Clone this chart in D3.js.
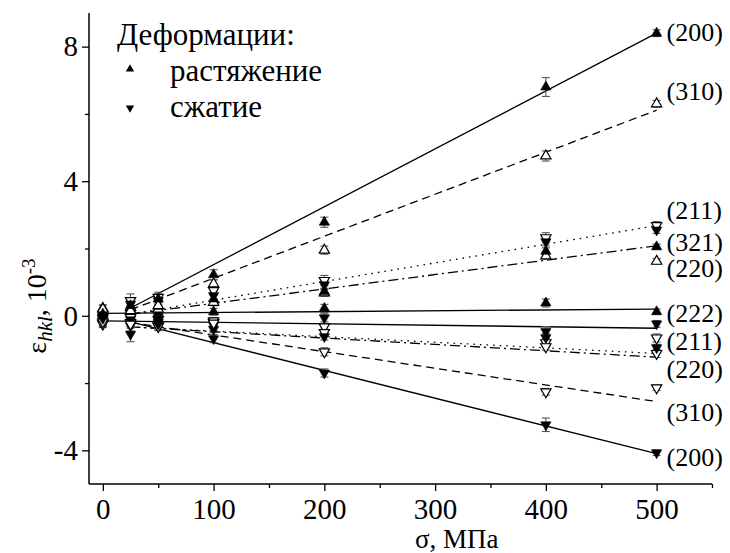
<!DOCTYPE html>
<html>
<head>
<meta charset="utf-8">
<script src="https://cdn.jsdelivr.net/npm/d3@7"></script>
<style>
  body { margin: 0; background: #fff; }
  svg { display: block; }
</style>
</head>
<body>
<svg id="chart" width="730" height="553" font-family="Liberation Serif"></svg>
<script>
// Applied stress, MPa
const stressMPa = [0, 25, 50, 100, 200, 400, 500];

// Lattice strain, 10^-3 — tension group
const t200 = [0.05, 0.3, 0.5, 1.22, 2.78, 6.8, 8.4];
const t200Err = [0.12, 0.2, 0.15, 0.15, 0.15, 0.28, 0.1];
const t310 = [0.2, 0.15, 0.3, 0.95, 1.95, 4.75, 6.3];
const t310Err = [0.12, 0.15, 0.12, 0.12, 0.12, 0.15, 0.1];
const t211Open = [-0.05, 0.45, 0.55, 0.75, 1.05, 2.32, 2.68];
const t211OpenErr = [0.1, 0.2, 0.15, 0.12, 0.15, 0.15, 0.12];
const t211 = [0.0, 0.35, 0.45, 0.6, 0.92, 2.2, 2.55];
const t211Err = [0.1, 0.15, 0.12, 0.12, 0.12, 0.12, 0.1];
const t321 = [0.12, 0.2, 0.28, 0.5, 0.72, 1.92, 2.05];
const t321Err = [0.1, 0.15, 0.12, 0.1, 0.1, 0.1, 0.08];
const t220 = [0.22, 0.25, 0.2, 0.4, 0.68, 1.78, 1.62];
const t220Err = [0.1, 0.12, 0.1, 0.1, 0.1, 0.1, 0.08];
const t222 = [0.02, 0.08, 0.1, 0.12, 0.22, 0.38, 0.12];
const t222Err = [0.1, 0.15, 0.12, 0.1, 0.12, 0.12, 0.08];

// Lattice strain, 10^-3 — compression group
const c211 = [-0.05, -0.12, -0.1, -0.28, -0.06, -0.47, -0.24];
const c211Err = [0.1, 0.15, 0.12, 0.1, 0.12, 0.15, 0.1];
const c222Open = [-0.22, -0.05, -0.12, -0.2, -0.33, -0.8, -0.66];
const c222OpenErr = [0.1, 0.12, 0.1, 0.1, 0.1, 0.12, 0.12];
const c211b = [-0.1, -0.3, -0.2, -0.4, -0.62, -0.65, -0.95];
const c211bErr = [0.1, 0.15, 0.1, 0.1, 0.1, 0.12, 0.1];
const c220 = [-0.25, -0.2, -0.3, -0.15, -0.5, -0.92, -1.12];
const c220Err = [0.1, 0.12, 0.12, 0.1, 0.1, 0.1, 0.12];
const c310 = [-0.18, -0.25, -0.32, -0.22, -1.07, -2.26, -2.14];
const c310Err = [0.1, 0.12, 0.12, 0.1, 0.12, 0.1, 0.08];
const c200 = [-0.08, -0.55, -0.25, -0.68, -1.7, -3.24, -4.07];
const c200Err = [0.1, 0.22, 0.12, 0.12, 0.12, 0.2, 0.08];

// Linear fits: start/end stress and strain
const fitFrom = [25, 25, 25, 25, 0, 0, 25, 25, 25, 25];
const fitTo = [500, 500, 500, 500, 500, 500, 500, 500, 500, 500];
const fitStart = [0.23, 0.18, 0.05, 0.05, 0.07, -0.15, -0.33, -0.33, -0.2, -0.18];
const fitEnd = [8.4, 6.11, 2.68, 2.08, 0.2, -0.37, -1.12, -1.23, -2.55, -4.1];
const fitStyle = ["solid", "dash", "dot", "dashdot", "solid", "solid", "dot", "dashdot", "dash", "solid"];

// Reflection labels and the strain level they sit at
const reflLabels = ["(200)", "(310)", "(211)", "(321)", "(220)", "(222)", "(211)", "(220)", "(310)", "(200)"];
const reflLevels = [8.44, 6.68, 3.15, 2.19, 1.42, 0.08, -0.75, -1.58, -2.86, -4.2];

const xTicks = [0, 100, 200, 300, 400, 500];
const xMinor = [50, 150, 250, 350, 450, 550];
const yTicks = [-4, 0, 4, 8];
const yMinor = [-2, 2, 6];

const legendTitle = "Деформации:";
const legendItems = ["растяжение", "сжатие"];

// ---- layout ----
const FONT = "Liberation Serif";
const svg = d3.select("#chart");
const mLeft = 89, mRight = 712, mTop = 13, mBottom = 484;
const x = d3.scaleLinear().domain([-12.5, 550]).range([mLeft, mRight]);
const y = d3.scaleLinear().domain([-5, 9]).range([mBottom, mTop]);

const dashes = { solid: null, dash: "8,5", dot: "1.6,5", dashdot: "10,4,2,4" };

// fit lines
const fitLine = d3.line().x(d => x(d[0])).y(d => y(d[1]));
const plot = svg.append("g");
fitStart.forEach((s, i) => {
  plot.append("path")
    .attr("d", fitLine([[fitFrom[i], s], [fitTo[i], fitEnd[i]]]))
    .attr("fill", "none")
    .attr("stroke", "#000")
    .attr("stroke-width", 1.3)
    .attr("stroke-dasharray", dashes[fitStyle[i]]);
});

// measured points
const series = [
  { v: t222, e: t222Err, up: true, open: false },
  { v: t220, e: t220Err, up: true, open: true },
  { v: t321, e: t321Err, up: true, open: false },
  { v: t211Open, e: t211OpenErr, up: false, open: true },
  { v: t211, e: t211Err, up: false, open: false },
  { v: t310, e: t310Err, up: true, open: true },
  { v: t200, e: t200Err, up: true, open: false },
  { v: c222Open, e: c222OpenErr, up: false, open: true },
  { v: c220, e: c220Err, up: false, open: true },
  { v: c211b, e: c211bErr, up: false, open: false },
  { v: c211, e: c211Err, up: false, open: false },
  { v: c310, e: c310Err, up: false, open: true },
  { v: c200, e: c200Err, up: false, open: false }
];

const tri = d3.symbol().type(d3.symbolTriangle).size(46)();
const triSmall = d3.symbol().type(d3.symbolTriangle).size(30)();

// error bars
const errG = svg.append("g").attr("stroke", "#555").attr("stroke-width", 1.1);
series.forEach(s => {
  s.v.forEach((val, i) => {
    const cx = x(stressMPa[i]);
    const y1 = y(val + s.e[i]), y2 = y(val - s.e[i]);
    errG.append("line").attr("x1", cx).attr("x2", cx).attr("y1", y1).attr("y2", y2);
    errG.append("line").attr("x1", cx - 4).attr("x2", cx + 4).attr("y1", y1).attr("y2", y1);
    errG.append("line").attr("x1", cx - 4).attr("x2", cx + 4).attr("y1", y2).attr("y2", y2);
  });
});

// markers
const mkG = svg.append("g");
series.forEach(s => {
  s.v.forEach((val, i) => {
    mkG.append("path")
      .attr("d", tri)
      .attr("transform", `translate(${x(stressMPa[i])},${y(val)})${s.up ? "" : " rotate(180)"}`)
      .attr("fill", s.open ? "#fff" : "#000")
      .attr("stroke", "#000")
      .attr("stroke-width", s.open ? 1.2 : 0.6);
  });
});

// axes
const axG = svg.append("g");
axG.append("line").attr("x1", mLeft).attr("x2", mLeft).attr("y1", mTop).attr("y2", mBottom)
  .attr("stroke", "#000").attr("stroke-width", 1.5);
axG.append("line").attr("x1", mLeft).attr("x2", mRight).attr("y1", mBottom).attr("y2", mBottom)
  .attr("stroke", "#000").attr("stroke-width", 1.5);

const xAxis = d3.axisBottom(x).tickValues(xTicks).tickSize(7).tickPadding(7).tickFormat(d => String(d));
const gx = svg.append("g").attr("transform", `translate(0,${mBottom})`).call(xAxis)
  .attr("font-family", FONT).attr("font-size", 29);
gx.select(".domain").remove();
gx.selectAll(".tick line").attr("stroke", "#000").attr("stroke-width", 1.3);
gx.selectAll(".tick text").attr("fill", "#000");

const xAxisMinor = d3.axisBottom(x).tickValues(xMinor).tickSize(4).tickFormat("");
const gxm = svg.append("g").attr("transform", `translate(0,${mBottom})`).call(xAxisMinor);
gxm.select(".domain").remove();
gxm.selectAll(".tick line").attr("stroke", "#000").attr("stroke-width", 1.3);

const yAxis = d3.axisLeft(y).tickValues(yTicks).tickSize(7).tickPadding(4).tickFormat(d => String(d));
const gy = svg.append("g").attr("transform", `translate(${mLeft},0)`).call(yAxis)
  .attr("font-family", FONT).attr("font-size", 29);
gy.select(".domain").remove();
gy.selectAll(".tick line").attr("stroke", "#000").attr("stroke-width", 1.3);
gy.selectAll(".tick text").attr("fill", "#000");

const yAxisMinor = d3.axisLeft(y).tickValues(yMinor).tickSize(4).tickFormat("");
const gym = svg.append("g").attr("transform", `translate(${mLeft},0)`).call(yAxisMinor);
gym.select(".domain").remove();
gym.selectAll(".tick line").attr("stroke", "#000").attr("stroke-width", 1.3);

// axis titles
svg.append("text")
  .attr("x", 415).attr("y", 548)
  .attr("font-family", FONT)
  .attr("font-size", 27)
  .text("σ, МПа");

const yTitle = svg.append("text")
  .attr("transform", "translate(46,306) rotate(-90)")
  .attr("text-anchor", "middle")
  .attr("font-family", FONT)
  .attr("font-size", 28);
yTitle.append("tspan").text("ε");
yTitle.append("tspan").attr("font-style", "italic").attr("font-size", 21).attr("dy", 6).text("hkl");
yTitle.append("tspan").attr("dy", -6).text(", 10");
yTitle.append("tspan").attr("font-size", 19).attr("dy", -11).text("-3");

// reflection labels
svg.append("g").selectAll("text")
  .data(reflLabels)
  .join("text")
  .attr("x", x(500) + 10)
  .attr("y", (d, i) => y(reflLevels[i]))
  .attr("dy", "0.35em")
  .attr("font-family", FONT)
  .attr("font-size", 26)
  .text(d => d);

// legend
const lg = svg.append("g").attr("font-family", FONT);
lg.append("text").attr("x", 117).attr("y", 45).attr("font-size", 31).text(legendTitle);
legendItems.forEach((t, i) => {
  const cy = i === 0 ? 69 : 108;
  lg.append("path").attr("d", triSmall)
    .attr("transform", `translate(130,${cy})${i === 0 ? "" : " rotate(180)"}`)
    .attr("fill", "#000");
  lg.append("text").attr("x", 170).attr("y", i === 0 ? 81 : 117).attr("font-size", 31).text(t);
});
</script>
</body>
</html>
